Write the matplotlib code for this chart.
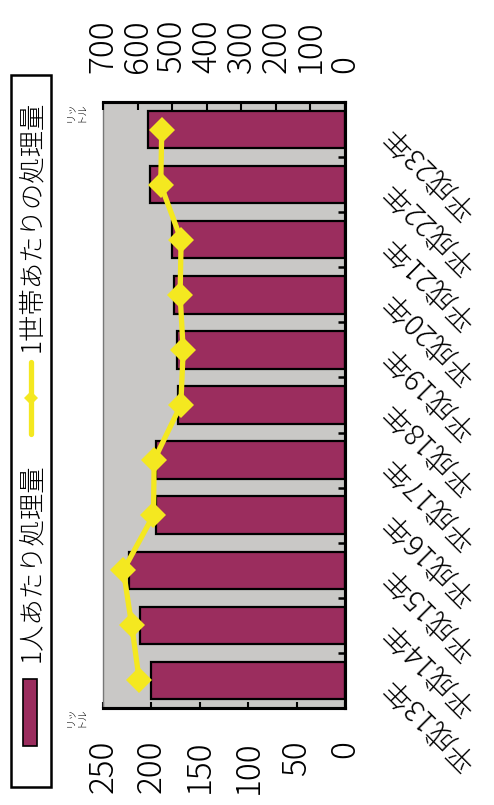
import matplotlib
matplotlib.use("Agg")
import matplotlib.pyplot as plt
from matplotlib.patches import Rectangle
from matplotlib.lines import Line2D

plt.rcParams["font.family"] = ["Noto Sans CJK JP", "DejaVu Sans"]
plt.rcParams["font.weight"] = "light"

# data (per-person bars: left scale, per-household line: right scale)
years = ["平成13年", "平成14年", "平成15年", "平成16年", "平成17年", "平成18年",
         "平成19年", "平成20年", "平成21年", "平成22年", "平成23年"]
per_person = [200, 212, 223, 195, 195, 173, 174, 177, 179, 201, 203]
per_household = [595, 617, 641, 554, 552, 475, 468, 477, 474, 533, 530]
person_ticks = [0, 50, 100, 150, 200, 250]
household_ticks = [0, 100, 200, 300, 400, 500, 600, 700]

bar_color = "#9B2D5E"
line_color = "#F4E820"
bg_color = "#C9C8C6"

W, H = 494, 805
fig = plt.figure(figsize=(W / 100, H / 100), dpi=100)


def fx(x):
    return x / W


def fy(y):
    return 1 - y / H


ax = fig.add_axes([fx(103), fy(708), fx(345) - fx(103), fy(102) - fy(708)])
ax.set_facecolor(bg_color)

ypos = list(range(len(years)))
ax.barh(ypos, per_person, height=0.68, color=bar_color,
        edgecolor="black", linewidth=1.6, zorder=2)
ax.set_xlim(250, 0)
ax.set_ylim(-0.5, len(years) - 0.5)

ax.set_xticks(person_ticks)
ax.set_xticklabels([str(v) for v in person_ticks], rotation=90, fontsize=24)
ax.tick_params(axis="x", direction="in", length=4, width=1.5, pad=23)

ax.yaxis.tick_right()
ax.set_yticks(ypos)
ax.set_yticklabels(years, rotation=135, rotation_mode="anchor",
                   ha="right", va="center", fontsize=21)
ax.set_yticks([p + 0.5 for p in ypos[:-1]], minor=True)
ax.tick_params(axis="y", which="major", length=0, pad=30)
ax.tick_params(axis="y", which="minor", direction="in", length=5, width=1.8)

for side in ["top", "right", "bottom"]:
    ax.spines[side].set_linewidth(2.2)
    ax.spines[side].set_color("black")
ax.spines["left"].set_linewidth(1.0)
ax.spines["left"].set_color("#777777")

ax2 = ax.twiny()
ax2.plot(per_household, ypos, color=line_color, linewidth=3.8,
         marker="D", markersize=13.5, markeredgewidth=0, zorder=3)
ax2.set_xlim(700, 0)
ax2.set_xticks(household_ticks)
ax2.set_xticklabels([str(v) for v in household_ticks], rotation=90, fontsize=24)
ax2.tick_params(axis="x", direction="in", length=6, width=1.5, pad=21)
for side in ["top", "right", "bottom"]:
    ax2.spines[side].set_linewidth(2.2)
ax2.spines["left"].set_visible(False)

# unit labels
for cy in [112, 717]:
    fig.text(fx(76), fy(cy), "リッ\nトル", rotation=90, fontsize=7.5,
             ha="center", va="center", linespacing=0.9)

# legend (drawn by hand, rotated)
fig.patches.append(Rectangle((fx(11), fy(787)), fx(51) - fx(11), fy(75) - fy(787),
                             transform=fig.transFigure, facecolor="white",
                             edgecolor="black", linewidth=1.8))
fig.patches.append(Rectangle((fx(23), fy(746)), fx(37) - fx(23), fy(679) - fy(746),
                             transform=fig.transFigure, facecolor=bar_color,
                             edgecolor="black", linewidth=1.2))
fig.text(fx(31), fy(662), "1人あたり処理量", rotation=90, rotation_mode="anchor",
         ha="left", va="center", fontsize=19)
fig.lines.append(Line2D([fx(31), fx(31)], [fy(434), fy(362)], transform=fig.transFigure,
                        color=line_color, linewidth=3.8, solid_capstyle="round"))
fig.lines.append(Line2D([fx(31)], [fy(398)], transform=fig.transFigure,
                        color=line_color, marker="D", markersize=7, markeredgewidth=0))
fig.text(fx(31), fy(352), "1世帯あたりの処理量", rotation=90, rotation_mode="anchor",
         ha="left", va="center", fontsize=19)

fig.savefig("out.png", dpi=100)
